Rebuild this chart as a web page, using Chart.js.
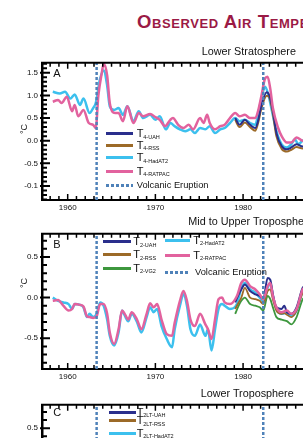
<!DOCTYPE html>
<html>
<head>
<meta charset="utf-8">
<script src="https://cdn.jsdelivr.net/npm/chart.js@4.4.0/dist/chart.umd.min.js"></script>
<style>
  html, body { margin: 0; padding: 0; background: #fff; }
  #fig { position: relative; width: 303px; height: 438px; overflow: hidden;
         font-family: "Liberation Sans", Arial, sans-serif; color: #111; }
  #fig canvas { position: absolute; left: 0; }
  .txt { position: absolute; white-space: nowrap; line-height: 1; }
  .sw { position: absolute; height: 3px; }
  #title { font-weight: bold; font-variant: small-caps; color: #9b1a45; letter-spacing: 0.6px; }
</style>
</head>
<body>
<div id="fig">
  <canvas id="chartA" width="312" height="162" style="top:54px"></canvas>
  <canvas id="chartB" width="312" height="160" style="top:225px"></canvas>
  <canvas id="chartC" width="312" height="160" style="top:396px"></canvas>
  <div id="overlay"></div>
</div>
<script>
// ---- values ----
const xTickYears = [1960, 1970, 1980];
const volcanoYears = [1963.3, 1982.3];

// A: lower stratosphere (T4)
const yTicksA = [1.5, 1.0, 0.5, 0.0, -0.5, -1.0];
const yLabelsA = ['1.5', '1.0', '0.5', '0.0', '-0.5', '-0.1'];
const hadA_yr = [1958.3, 1959.1, 1959.7, 1960.3, 1960.8, 1961.4, 1961.8, 1962.5, 1962.9, 1963.2,
  1963.7, 1964.1, 1964.5, 1964.8, 1965.3, 1965.8, 1966.3, 1966.8, 1967.5, 1968.1,
  1968.6, 1969.4, 1970.0, 1970.5, 1971.2, 1971.7, 1972.2, 1972.8, 1973.4, 1974.0,
  1974.5, 1975.1, 1975.7, 1976.2, 1976.8, 1977.4, 1977.9, 1978.5, 1979.1, 1979.6,
  1980.2, 1980.8, 1981.4, 1981.7, 1982.1, 1982.5, 1982.9, 1983.3, 1983.8, 1984.4,
  1985.0, 1985.5, 1985.9, 1986.3, 1986.8, 1987.3];
const hadA = [1.08, 1.04, 1.08, 0.93, 1.02, 0.79, 0.93, 0.61, 0.72, 0.83,
  1.37, 1.55, 1.22, 0.76, 0.68, 0.72, 0.57, 0.76, 0.43, 0.65,
  0.50, 0.57, 0.46, 0.54, 0.25, 0.39, 0.32, 0.25, 0.21, 0.25,
  0.17, 0.28, 0.25, 0.32, 0.17, 0.25, 0.28, 0.39, 0.50, 0.43,
  0.46, 0.39, 0.35, 0.57, 0.93, 1.19, 1.00, 0.65, 0.21, -0.08,
  -0.15, -0.08, 0.03, -0.08, 0.00, 0.02];
const ratA_yr = [1958.3, 1958.9, 1959.3, 1959.9, 1960.5, 1960.8, 1961.2, 1961.8, 1962.4, 1962.9,
  1963.2, 1963.5, 1963.9, 1964.1, 1964.5, 1964.8, 1965.4, 1965.8, 1966.3, 1966.8,
  1967.5, 1968.1, 1968.6, 1969.4, 1970.0, 1970.5, 1971.1, 1971.7, 1972.0, 1972.6,
  1973.2, 1973.8, 1974.3, 1975.1, 1975.5, 1975.9, 1976.2, 1976.8, 1977.4, 1977.9,
  1978.5, 1979.1, 1979.6, 1980.2, 1980.8, 1981.4, 1981.7, 1982.1, 1982.5, 1982.8,
  1983.1, 1983.4, 1984.0, 1984.4, 1985.0, 1985.5, 1986.1, 1986.8, 1987.3];
const ratA = [0.86, 0.90, 0.83, 0.97, 0.65, 0.79, 0.54, 0.68, 0.39, 0.35,
  0.28, 1.00, 1.51, 1.70, 1.44, 0.83, 0.61, 0.61, 0.43, 0.76,
  0.39, 0.61, 0.54, 0.59, 0.52, 0.46, 0.32, 0.46, 0.50, 0.35,
  0.28, 0.35, 0.25, 0.50, 0.39, 0.57, 0.39, 0.25, 0.32, 0.35,
  0.50, 0.61, 0.54, 0.57, 0.50, 0.50, 0.65, 1.00, 1.37, 1.41,
  1.15, 0.72, 0.28, 0.10, -0.04, -0.04, 0.07, 0.00, 0.02];
const satA_yr = [1979.1, 1979.6, 1980.2, 1980.8, 1981.4, 1981.7, 1982.1, 1982.7, 1983.0, 1983.4,
  1983.8, 1984.4, 1985.0, 1985.5, 1986.1, 1986.8, 1987.3];
const uahA = [0.50, 0.35, 0.46, 0.35, 0.28, 0.43, 0.79, 1.07, 1.00, 0.66,
  0.17, -0.12, -0.19, -0.15, -0.08, -0.13, -0.10];
const rssA = [0.46, 0.30, 0.40, 0.30, 0.22, 0.38, 0.72, 0.99, 0.95, 0.60,
  0.10, -0.18, -0.24, -0.20, -0.14, -0.17, -0.15];

// B: mid to upper troposphere (T2)
const yTicksB = [0.5, 0.0, -0.5];
const yLabelsB = ['0.5', '0.0', '-0.5'];
const radB_yr = [1958.3, 1958.9, 1959.5, 1960.1, 1960.5, 1960.8, 1961.4, 1961.8, 1962.2, 1962.5,
  1962.9, 1963.3, 1963.7, 1964.1, 1964.5, 1964.8, 1965.3, 1965.8, 1966.2, 1966.5,
  1966.9, 1967.3, 1967.9, 1968.4, 1969.0, 1969.4, 1969.8, 1970.2, 1970.7, 1971.3,
  1971.9, 1972.2, 1972.8, 1973.2, 1973.6, 1974.0, 1974.5, 1975.1, 1975.7, 1976.0,
  1976.4, 1976.8, 1977.2, 1977.6, 1977.9, 1978.5, 1979.3, 1979.8, 1980.2, 1980.8,
  1981.4, 1981.9, 1982.3, 1982.8, 1983.1, 1983.4, 1983.8, 1984.4, 1985.0, 1985.5,
  1986.1, 1986.8, 1987.3];
const hadB = [0.00, -0.04, -0.06, -0.08, -0.14, -0.08, -0.09, -0.12, -0.24, -0.20,
  -0.24, -0.20, -0.06, -0.10, -0.27, -0.47, -0.59, -0.43, -0.16, -0.22,
  -0.29, -0.20, -0.30, -0.43, -0.24, -0.12, -0.18, -0.14, -0.35, -0.51,
  -0.61, -0.39, -0.10, 0.04, -0.10, -0.39, -0.47, -0.33, -0.47, -0.39,
  -0.65, -0.39, -0.14, -0.08, -0.10, -0.14, -0.08, 0.12, 0.18, 0.10,
  0.06, 0.00, -0.04, 0.12, 0.18, 0.02, -0.14, -0.20, -0.18, -0.22,
  -0.16, 0.08, 0.12];
const ratB = [-0.04, -0.03, -0.10, -0.16, -0.14, -0.08, -0.09, -0.11, -0.23, -0.24,
  -0.25, -0.23, -0.08, -0.08, -0.20, -0.43, -0.57, -0.39, -0.16, -0.20,
  -0.27, -0.18, -0.27, -0.39, -0.20, -0.07, -0.12, -0.08, -0.27, -0.45,
  -0.47, -0.31, -0.04, 0.08, -0.04, -0.27, -0.35, -0.20, -0.33, -0.39,
  -0.51, -0.27, -0.02, 0.00, -0.06, -0.08, 0.02, 0.18, 0.22, 0.14,
  0.10, 0.04, -0.02, 0.14, 0.18, 0.02, -0.12, -0.18, -0.16, -0.20,
  -0.14, 0.10, 0.14];
const satB_yr = [1979.1, 1979.5, 1979.8, 1980.2, 1980.8, 1981.4, 1981.9, 1982.3, 1982.8, 1983.1,
  1983.4, 1983.8, 1984.4, 1984.7, 1985.0, 1985.5, 1986.1, 1986.8, 1987.3];
const uahB = [-0.06, 0.04, 0.10, 0.16, 0.08, 0.04, 0.02, -0.02, 0.24, 0.22,
  0.04, -0.12, -0.14, -0.10, -0.18, -0.20, -0.12, 0.12, 0.16];
const rssB = [-0.14, -0.06, 0.00, 0.12, 0.00, -0.02, -0.04, -0.08, 0.08, 0.10,
  -0.02, -0.16, -0.20, -0.19, -0.21, -0.24, -0.16, 0.06, 0.10];
const vg2B = [-0.20, -0.10, -0.04, 0.00, -0.08, -0.10, -0.12, -0.16, 0.02, -0.02,
  -0.12, -0.24, -0.27, -0.28, -0.29, -0.33, -0.24, -0.02, 0.02];

// C: lower troposphere (T2LT) - only the top of this panel is in the picture
const yTicksC = [0.5, 0.0, -0.5];
const yLabelsC = ['0.5', '0.0', '-0.5'];

// ---- styling ----
const cUAH = '#2a2f8c', cRSS = '#9c6a28', cHad = '#3cc0ee', cRat = '#e2629e', cVG2 = '#3d973d';
const cVolc = '#4f82b9';
const tickFont = {family: '"Liberation Sans", Arial, sans-serif', size: 8};
const xMin = 1957.07, xMax = 1987.86;

// inward tick marks and the top frame line
const frame = {
  id: 'frame',
  afterDraw(chart) {
    const {ctx, chartArea: a, scales: {x, y}} = chart;
    ctx.save();
    ctx.strokeStyle = '#000';
    ctx.lineWidth = 2;
    ctx.beginPath();
    ctx.moveTo(a.left - 1, a.top);
    ctx.lineTo(a.right, a.top);
    ctx.stroke();

    ctx.lineWidth = 1.5;
    ctx.beginPath();
    for (let yr = Math.ceil(x.min); yr <= x.max; yr++) {
      const px = x.getPixelForValue(yr);
      const len = yr % 10 === 0 ? 6 : 4;
      ctx.moveTo(px, a.top);
      ctx.lineTo(px, a.top + len);
      ctx.moveTo(px, a.bottom);
      ctx.lineTo(px, a.bottom - len);
    }
    ctx.stroke();

    ctx.lineWidth = 2;
    ctx.beginPath();
    for (let i = Math.ceil(y.min * 10); i <= y.max * 10; i++) {
      const py = y.getPixelForValue(i / 10);
      const major = i % 5 === 0;
      ctx.moveTo(a.left - (major ? 2 : 0), py);
      ctx.lineTo(a.left + (major ? 8 : 5), py);
    }
    ctx.stroke();
    ctx.restore();
  }
};

function line(yrs, vals, color, width, order) {
  return {
    data: yrs.map((v, i) => ({x: v, y: vals[i]})),
    borderColor: color, borderWidth: width, order: order,
    pointRadius: 0, cubicInterpolationMode: 'monotone', fill: false
  };
}

function panel(id, yMin, yMax, yTicks, yLabels, series) {
  const datasets = series.slice();
  volcanoYears.forEach(v => datasets.push({
    data: [{x: v, y: yMin}, {x: v, y: yMax}],
    borderColor: cVolc, borderWidth: 2.5, borderDash: [3, 2],
    pointRadius: 0, order: 0
  }));
  return new Chart(document.getElementById(id), {
    type: 'line',
    data: {datasets: datasets},
    options: {
      responsive: false,
      animation: false,
      events: [],
      layout: {padding: {top: 5, right: 0, bottom: 0, left: 0}},
      plugins: {legend: {display: false}, tooltip: {enabled: false}},
      scales: {
        x: {
          type: 'linear', min: xMin, max: xMax,
          afterBuildTicks: s => { s.ticks = xTickYears.map(v => ({value: v})); },
          afterFit: s => { s.height = 16; },
          ticks: {font: tickFont, color: '#111', padding: 3, maxRotation: 0, callback: v => String(v)},
          grid: {drawOnChartArea: false, drawTicks: false},
          border: {color: '#000', width: 2}
        },
        y: {
          min: yMin, max: yMax,
          afterBuildTicks: s => { s.ticks = yTicks.map(v => ({value: v})); },
          afterFit: s => { s.width = 42; },
          ticks: {font: tickFont, color: '#111', padding: 4, callback: (v, i) => yLabels[i]},
          grid: {drawOnChartArea: false, drawTicks: false},
          border: {color: '#000', width: 2.5}
        }
      }
    },
    plugins: [frame]
  });
}

panel('chartA', -1.31, 1.72, yTicksA, yLabelsA, [
  line(ratA_yr, ratA, cRat, 2.5, 1),
  line(satA_yr, uahA, cUAH, 2, 2),
  line(satA_yr, rssA, cRSS, 2, 3),
  line(hadA_yr, hadA, cHad, 2.5, 4)
]);
panel('chartB', -0.878, 0.784, yTicksB, yLabelsB, [
  line(radB_yr, ratB, cRat, 2.5, 1),
  line(satB_yr, uahB, cUAH, 2, 2),
  line(satB_yr, rssB, cRSS, 1.8, 3),
  line(radB_yr, hadB, cHad, 2.5, 4),
  line(satB_yr, vg2B, cVG2, 1.8, 5)
]);
panel('chartC', -0.88, 0.788, yTicksC, yLabelsC, []);

// ---- text and keys laid over the canvases ----
const overlay = document.getElementById('overlay');
function text(str, left, baseline, size) {
  const d = document.createElement('div');
  d.className = 'txt';
  d.textContent = str;
  d.style.left = left + 'px';
  d.style.top = (baseline - 0.85 * size) + 'px';
  d.style.fontSize = size + 'px';
  overlay.appendChild(d);
  return d;
}
function key(x, w, yc, color, sub, tx) {
  const s = document.createElement('div');
  s.className = 'sw';
  s.style.left = x + 'px';
  s.style.width = w + 'px';
  s.style.top = (yc - 1.5) + 'px';
  s.style.background = color;
  overlay.appendChild(s);
  text('T', tx, yc + 4, 11);
  text(sub, tx + 6.6, yc + 5.6, 5.5);
}
function volcKey(x, w, yc, tx) {
  const s = document.createElement('div');
  s.className = 'sw';
  s.style.left = x + 'px';
  s.style.width = w + 'px';
  s.style.top = (yc - 1.5) + 'px';
  s.style.background = 'repeating-linear-gradient(90deg, ' + cVolc + ' 0 3px, transparent 3px 5px)';
  overlay.appendChild(s);
  text('Volcanic Eruption', tx, yc + 3.4, 9.3);
}
function degC(cx, cy) {
  const d = text('°C', cx, cy, 9);
  d.style.top = cy + 'px';
  d.style.transform = 'translate(-50%, -50%) rotate(-90deg)';
}

const t = text('Observed Air Temperature', 137, 28.3, 18.5);
t.id = 'title';

text('Lower Stratosphere', 201.7, 55, 10.8);
text('Mid to Upper Troposphere', 188.3, 224.7, 10.8);
text('Lower Troposphere', 200.7, 396.7, 10.8);

text('A', 53.3, 77, 11);
text('B', 53.3, 248, 11);
text('C', 53.3, 416.7, 11);

degC(23.5, 129);
degC(23.5, 283);

key(106, 27, 133.7, cUAH, '4-UAH', 136.7);
key(106, 27, 145.5, cRSS, '4-RSS', 136.7);
key(106, 27, 157.7, cHad, '4-HadAT2', 136.7);
key(106, 27, 171.2, cRat, '4-RATPAC', 136.7);
volcKey(106, 27, 185.3, 136.7);

key(103.3, 27.4, 241.8, cUAH, '2-UAH', 133.3);
key(103.3, 27.4, 254.7, cRSS, '2-RSS', 133.3);
key(103.3, 27.4, 268, cVG2, '2-VG2', 133.3);
key(165, 25, 240.5, cHad, '2-HadAT2', 193.3);
key(165, 25, 255, cRat, '2-RATPAC', 193.3);
volcKey(165, 25, 272.8, 195);

key(109, 26.7, 412.3, cUAH, '2LT-UAH', 136.7);
key(109, 26.7, 420.7, cRSS, '2LT-RSS', 136.7);
key(109, 26.7, 433.3, cHad, '2LT-HadAT2', 136.7);
</script>
</body>
</html>
